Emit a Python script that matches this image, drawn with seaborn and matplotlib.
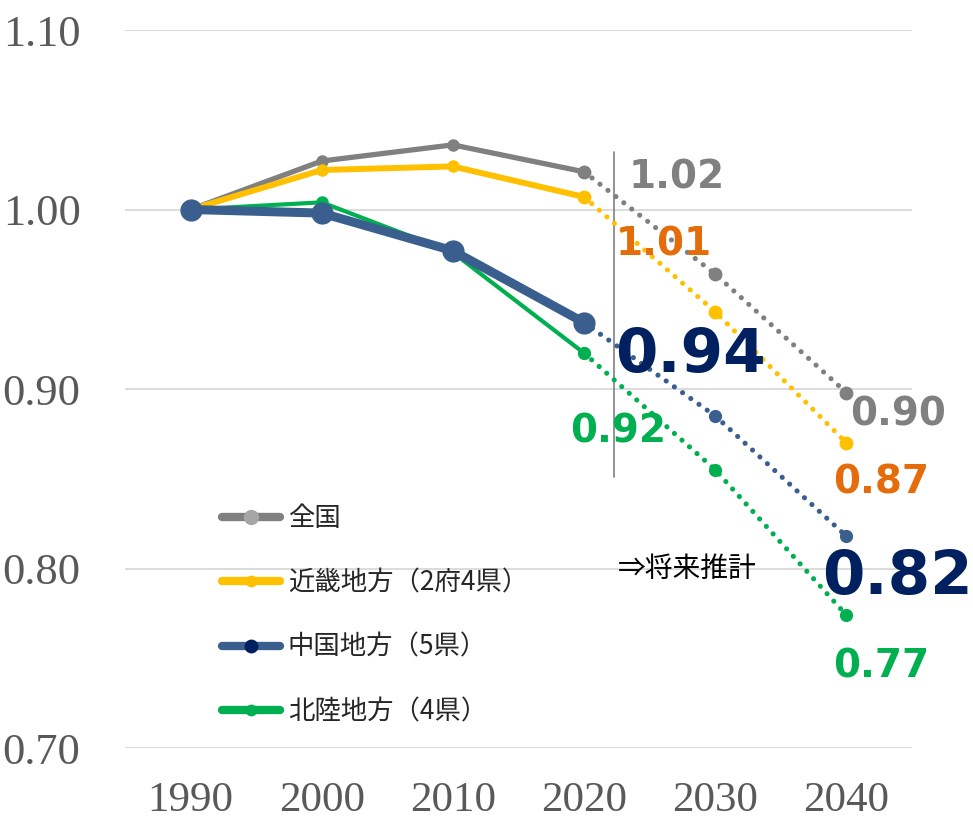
import matplotlib
matplotlib.use("Agg")
import matplotlib.pyplot as plt
import seaborn as sns
import pandas as pd
from matplotlib.lines import Line2D

# ---- data ----
years_actual = [1990, 2000, 2010, 2020]
years_proj = [2020, 2030, 2040]
zenkoku = [1.000, 1.027, 1.036, 1.021, 0.964, 0.898]
kinki = [1.000, 1.022, 1.024, 1.007, 0.943, 0.870]
chugoku = [1.000, 0.998, 0.977, 0.937, 0.885, 0.818]
hokuriku = [1.000, 1.004, 0.976, 0.920, 0.855, 0.774]
series_names = ["全国", "近畿地方（2府4県）", "中国地方（5県）", "北陸地方（4県）"]
x_ticks = [1990, 2000, 2010, 2020, 2030, 2040]
y_ticks = [0.70, 0.80, 0.90, 1.00, 1.10]

sns.set_theme(style="white")
plt.rcParams['font.family'] = ['Noto Sans CJK JP', 'DejaVu Sans']

W, H = 973, 822
fig = plt.figure(figsize=(W / 100, H / 100), dpi=100)
ax = fig.add_axes([125 / W, 1 - 748 / H, (912 - 125) / W, (748 - 30) / H])

gray = "#808080"
yellow = "#FFC000"
blue = "#3A5F8F"
green = "#00B050"
navy = "#002060"
orange = "#E46C0A"

styles = [
    # values, color, solid lw, solid ms, proj ms
    (zenkoku, gray, 3.8, 9, 10),
    (kinki, yellow, 4.3, 9, 10),
    (hokuriku, green, 3.0, 9, 9.5),
    (chugoku, blue, 6.5, 16, 9.5),
]

for vals, col, lw, ms, pms in styles:
    dfa = pd.DataFrame({"year": years_actual, "v": vals[:4]})
    dfp = pd.DataFrame({"year": years_proj, "v": vals[3:]})
    sns.lineplot(data=dfp, x="year", y="v", ax=ax, color=col, linewidth=3.7,
                 linestyle=(0, (0.01, 1.95)), dash_capstyle="round",
                 marker="o", markersize=pms, markeredgewidth=0, zorder=2)
    sns.lineplot(data=dfa, x="year", y="v", ax=ax, color=col, linewidth=lw,
                 marker="o", markersize=ms, markeredgewidth=0, zorder=3)

# value labels: (series values, index, color, size, dx px, dy px)
labels = [
    (zenkoku, 3, gray, 28, 44, -17),
    (kinki, 3, orange, 28, 31, -59),
    (chugoku, 3, navy, 44, 31, -49),
    (hokuriku, 3, green, 28, -14, -89),
    (zenkoku, 5, gray, 28, 4, -33),
    (kinki, 5, orange, 28, -13, -51),
    (chugoku, 5, navy, 44, -24, -58),
    (hokuriku, 5, green, 28, -13, -62),
]
all_years = years_actual + years_proj[1:]
for vals, i, col, fs, dx, dy in labels:
    ax.annotate(f"{vals[i]:.2f}", xy=(all_years[i], vals[i]), xytext=(dx, dy),
                textcoords="offset pixels", ha="left", va="baseline",
                fontsize=fs, fontweight="bold", color=col,
                family="DejaVu Sans", zorder=5)

# separator between actual and projection
ax.plot([2022.3, 2022.3], [1.0323, 0.8507], color="#808080", lw=1.2, zorder=1)
ax.text(2022.55, 0.8, "⇒将来推計", fontsize=20, color="black", va="center",
        ha="left", family=["Noto Sans CJK JP", "DejaVu Sans"])

ax.set_xlim(1985.0, 2045.0)
ax.set_ylim(0.70, 1.10)
ax.set_xticks(x_ticks)
ax.set_yticks(y_ticks)
ax.set_xticklabels([str(t) for t in x_ticks], family="Liberation Serif",
                   fontsize=31, color="#595959")
ax.set_yticklabels([f"{t:.2f}" for t in y_ticks], family="Liberation Serif",
                   fontsize=32, color="#595959")
ax.tick_params(axis="y", length=0, pad=32)
ax.tick_params(axis="x", length=0, pad=24)
ax.grid(axis="y", color="#D9D9D9", linewidth=1.3)
ax.set_axisbelow(True)
for s in ax.spines.values():
    s.set_visible(False)
ax.set_xlabel("")
ax.set_ylabel("")

handles = [
    Line2D([], [], color=gray, lw=6, marker="o", ms=11, mfc="#A6A6A6", mew=0),
    Line2D([], [], color=yellow, lw=6, marker="o", ms=8.5, mfc=yellow, mew=0),
    Line2D([], [], color=blue, lw=6, marker="o", ms=10, mfc=navy, mew=0),
    Line2D([], [], color=green, lw=6, marker="o", ms=8.5, mfc=green, mew=0),
]
ax.legend(handles, series_names, loc="upper left",
          bbox_to_anchor=(222 / W, 1 - 505 / H), bbox_transform=fig.transFigure,
          frameon=False, labelspacing=1.42, handlelength=2.2,
          handletextpad=0.3, borderpad=0, borderaxespad=0,
          prop={"family": ["Noto Sans CJK JP", "DejaVu Sans"], "size": 19})

fig.savefig("out.png", dpi=100)
